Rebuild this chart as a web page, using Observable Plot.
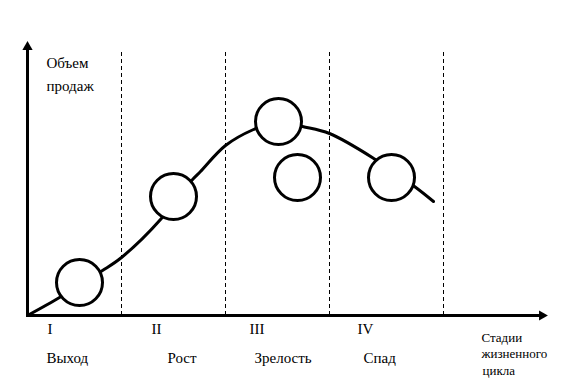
<!DOCTYPE html>
<html>
<head>
<meta charset="utf-8">
<script src="https://cdn.jsdelivr.net/npm/d3@7"></script>
<script src="https://cdn.jsdelivr.net/npm/@observablehq/plot@0.6"></script>
<style>
  html, body { margin: 0; padding: 0; background: #fff; }
  #chart svg text { font-family: "Times New Roman", "Liberation Serif", "DejaVu Serif", serif; }
</style>
</head>
<body>
<div id="chart"></div>
<script>
// Stage boundaries along the life-cycle axis
const stageBounds = [94, 198, 302, 416];
const stageNumerals = ["I", "II", "III", "IV"];
const stageNumeralX = [20, 124, 222, 330];
const stageNames = ["Выход", "Рост", "Зрелость", "Спад"];
const stageNameX = [19, 140, 227, 336];

// Sales curve (time, sales)
const curveT = [0, 32, 52, 75, 94, 133, 149, 166, 173, 198, 226, 251, 275, 302, 348, 387, 406];
const curveS = [0, 18, 31, 45, 58, 96, 117, 137, 144, 170, 186, 194, 189, 182, 156, 129, 114];

// Circles marking stages
const circleT = [52, 146, 251, 270, 364];
const circleS = [33, 119, 194, 138, 138];

// Axis labels
const yLabelLines = ["Объем", "продаж"];
const xLabelLines = ["Стадии", "жизненного", "цикла"];

const curve = curveT.map((t, i) => ({t, s: curveS[i]}));
const circles = circleT.map((t, i) => ({t, s: circleS[i]}));
const numerals = stageNumerals.map((n, i) => ({n, t: stageNumeralX[i]}));
const names = stageNames.map((n, i) => ({n, t: stageNameX[i]}));

const serif = "Times New Roman, Liberation Serif, DejaVu Serif, serif";
const font = {fontFamily: serif, fontSize: 15, fill: "black", textAnchor: "start", lineAnchor: "bottom"};

const chart = Plot.plot({
  width: 585,
  height: 386,
  margin: 0,
  style: {background: "white", fontFamily: serif},
  x: {domain: [-27, 558], range: [0, 585], axis: null},
  y: {domain: [-71, 315], range: [386, 0], axis: null},
  marks: [
    Plot.ruleX(stageBounds, {x: d => d, y1: 0, y2: 266, stroke: "black", strokeWidth: 1, strokeDasharray: "4,3"}),
    Plot.line(curve, {x: "t", y: "s", curve: "catmull-rom", stroke: "black", strokeWidth: 3}),
    Plot.dot(circles, {x: "t", y: "s", r: 23, fill: "white", stroke: "black", strokeWidth: 3}),
    Plot.ruleX([0], {y1: 0, y2: 269, stroke: "black", strokeWidth: 3}),
    Plot.ruleY([0], {x1: -1, x2: 515, stroke: "black", strokeWidth: 3}),
    Plot.dot([{t: 0, s: 268.5}], {x: "t", y: "s", symbol: "triangle", r: 3.8, fill: "black", stroke: "none"}),
    Plot.dot([{t: 514.5, s: 0}], {x: "t", y: "s", symbol: "triangle", r: 3.8, fill: "black", stroke: "none", rotate: 90}),
    Plot.text(yLabelLines, {x: 19, y: (d, i) => 248 - i * 23, text: d => d, ...font}),
    Plot.text(numerals, {x: "t", y: -18, text: "n", ...font}),
    Plot.text(names, {x: "t", y: -47, text: "n", ...font}),
    Plot.text(xLabelLines, {x: (d, i) => i === 2 ? 455 : 454, y: (d, i) => -26 - i * 16 - (i === 2 ? 1 : 0), text: d => d, ...font, fontSize: 13})
  ]
});
document.getElementById("chart").appendChild(chart);
</script>
</body>
</html>
